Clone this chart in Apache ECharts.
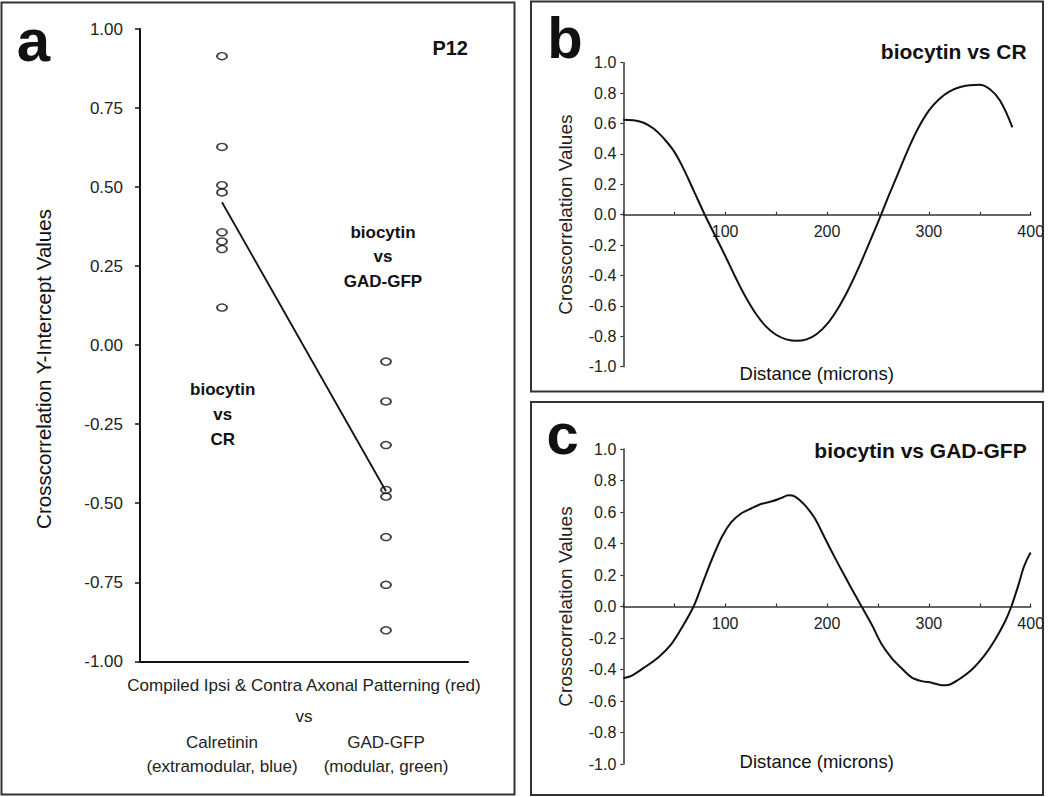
<!DOCTYPE html>
<html><head><meta charset="utf-8">
<script src="https://cdn.jsdelivr.net/npm/echarts@6/dist/echarts.min.js"></script>
<style>html,body{margin:0;padding:0;background:#fff}#c{width:1050px;height:797px}</style>
</head><body><div id="c"></div>
<script>
const FONT = "'Liberation Sans Narrow','Arial Narrow','Liberation Sans',Arial,sans-serif";

// Panel a data
const categoriesA = ['Calretinin\n(extramodular, blue)', 'GAD-GFP\n(modular, green)'];
const crValues = [0.914, 0.627, 0.506, 0.483, 0.357, 0.328, 0.304, 0.119];
const gadValues = [-0.052, -0.178, -0.316, -0.458, -0.479, -0.607, -0.758, -0.902];
const trendValues = [0.452, -0.462];

// Panel b data
const distB = [0, 10, 20, 30, 40, 50, 60, 70, 80, 90, 100, 110, 120, 130, 140, 150, 160, 170, 180, 190, 200, 210, 220, 230, 240, 250, 260, 270, 280, 290, 300, 310, 320, 330, 340, 350, 360, 370, 382];
const corrB = [0.625, 0.622, 0.605, 0.565, 0.5, 0.415, 0.29, 0.145, 0.0, -0.135, -0.27, -0.41, -0.54, -0.65, -0.735, -0.79, -0.82, -0.83, -0.82, -0.785, -0.72, -0.625, -0.505, -0.365, -0.21, -0.05, 0.115, 0.275, 0.435, 0.575, 0.685, 0.76, 0.81, 0.838, 0.852, 0.855, 0.825, 0.75, 0.575];

// Panel c data
const distC = [0, 8, 20, 34, 47, 57, 69, 78, 87, 96.6, 106, 116, 126, 136, 146, 155.5, 162, 168.6, 178, 188, 198, 208, 217.7, 227.5, 234, 244, 253.7, 263.5, 273, 283, 293, 302.8, 312.6, 319, 329, 342, 355, 365, 374.8, 381, 388, 392.8, 397.7, 400];
const corrC = [-0.455, -0.44, -0.39, -0.325, -0.24, -0.14, 0.0, 0.15, 0.3, 0.44, 0.535, 0.592, 0.624, 0.652, 0.668, 0.69, 0.706, 0.698, 0.645, 0.56, 0.433, 0.307, 0.19, 0.074, 0.0, -0.116, -0.24, -0.328, -0.391, -0.45, -0.474, -0.484, -0.5, -0.498, -0.465, -0.402, -0.307, -0.211, -0.095, 0.0, 0.137, 0.243, 0.317, 0.342];

const xTickLabelsBC = ['100', '200', '300', '400'];

const chart = echarts.init(document.getElementById('c'), null, {renderer: 'svg'});

function curveAxisY(gridIndex) {
  return {
    type: 'value', gridIndex, min: -1, max: 1, interval: 0.2,
    axisLine: {show: true, lineStyle: {color: '#333', width: 1.5}},
    axisTick: {show: true, length: 3, lineStyle: {color: '#333', width: 1.2}},
    splitLine: {show: false},
    axisLabel: {formatter: v => v.toFixed(1), fontSize: 16, fontFamily: FONT, color: '#222', margin: 7},
    name: 'Crosscorrelation Values', nameLocation: 'middle', nameGap: 48, nameMoveOverlap: false,
    nameTextStyle: {fontSize: 19, fontFamily: FONT, color: '#222'}
  };
}
function curveAxisX(gridIndex, halfHeight) {
  return {
    type: 'value', gridIndex, min: 0, max: 400, interval: 50,
    offset: -halfHeight,
    axisLine: {show: true, onZero: false, lineStyle: {color: '#333', width: 1.5}},
    axisTick: {show: true, inside: true, length: 3, lineStyle: {color: '#333', width: 1.2}},
    splitLine: {show: false},
    axisLabel: {
      formatter: v => xTickLabelsBC.indexOf(String(v)) >= 0 ? String(v) : '',
      fontSize: 16, fontFamily: FONT, color: '#222', margin: 9
    }
  };
}

const txt = (text, x, y, size, opts = {}) => Object.assign({
  type: 'text', x, y, silent: true,
  style: {
    text, fill: '#111', fontSize: size, fontFamily: FONT, fontWeight: opts.bold ? 'bold' : 'normal',
    align: opts.align || 'center', verticalAlign: opts.valign || 'middle',
    textAlign: opts.align || 'center', textVerticalAlign: opts.valign || 'middle',
    lineHeight: opts.lineHeight
  }
}, opts.rotation ? {rotation: opts.rotation} : {});

chart.setOption({
  backgroundColor: '#fff',
  animation: false,
  grid: [
    {left: 140, top: 29, width: 328, height: 632.3, outerBoundsMode: 'none', containLabel: false},
    {left: 623.3, top: 62.7, width: 407.4, height: 304, outerBoundsMode: 'none', containLabel: false},
    {left: 623.3, top: 449, width: 407.4, height: 315, outerBoundsMode: 'none', containLabel: false}
  ],
  xAxis: [
    {
      type: 'category', gridIndex: 0, data: categoriesA, boundaryGap: true,
      axisLine: {show: true, onZero: false, lineStyle: {color: '#111', width: 2}},
      axisTick: {show: false},
      axisLabel: {margin: 69, fontSize: 17, lineHeight: 24, fontFamily: FONT, color: '#222', interval: 0},
      name: 'Compiled Ipsi & Contra Axonal Patterning (red)\nvs',
      nameLocation: 'middle', nameGap: 9, nameMoveOverlap: false,
      nameTextStyle: {fontSize: 17, lineHeight: 31, fontFamily: FONT, color: '#222'}
    },
    curveAxisX(1, 152),
    curveAxisX(2, 157.5)
  ],
  yAxis: [
    {
      type: 'value', gridIndex: 0, min: -1, max: 1, interval: 0.25,
      axisLine: {show: true, lineStyle: {color: '#111', width: 2}},
      axisTick: {show: true, length: 5, lineStyle: {color: '#111', width: 1.5}},
      splitLine: {show: false},
      axisLabel: {formatter: v => v.toFixed(2), fontSize: 17, fontFamily: FONT, color: '#222', margin: 17}
    },
    curveAxisY(1),
    curveAxisY(2)
  ],
  graphic: {elements: [
    {type: 'rect', shape: {x: 1.5, y: 2.5, width: 513, height: 792}, style: {fill: 'none', stroke: '#333', lineWidth: 2}, silent: true},
    {type: 'rect', shape: {x: 531, y: 1.5, width: 512, height: 390}, style: {fill: 'none', stroke: '#333', lineWidth: 2}, silent: true},
    {type: 'rect', shape: {x: 531, y: 402, width: 512, height: 393}, style: {fill: 'none', stroke: '#333', lineWidth: 2}, silent: true},
    txt('a', 33.5, 40, 60, {bold: true}),
    txt('b', 565, 37, 58, {bold: true}),
    txt('c', 562.5, 433, 58, {bold: true}),
    txt('Crosscorrelation Y-Intercept Values', 43, 369, 20.5, {rotation: Math.PI / 2}),
    txt('P12', 468, 48, 20, {bold: true, align: 'right'}),
    txt('biocytin\nvs\nGAD-GFP', 383, 256.5, 17, {bold: true, lineHeight: 24.5}),
    txt('biocytin\nvs\nCR', 222.7, 414, 17, {bold: true, lineHeight: 25}),
    txt('biocytin vs CR', 1026.7, 51.7, 21, {bold: true, align: 'right'}),
    txt('biocytin vs GAD-GFP', 1026.7, 450, 21, {bold: true, align: 'right'}),
    txt('Distance (microns)', 816.7, 373, 18.5),
    txt('Distance (microns)', 816.7, 761.7, 18.5)
  ]},
  series: [
    {
      type: 'line', xAxisIndex: 0, yAxisIndex: 0, data: [[0, trendValues[0]], [1, trendValues[1]]],
      symbol: 'none', lineStyle: {color: '#111', width: 1.8}, z: 2
    },
    {
      type: 'scatter', xAxisIndex: 0, yAxisIndex: 0,
      data: crValues.map(v => [0, v]).concat(gadValues.map(v => [1, v])),
      symbol: 'circle', symbolSize: [10, 7],
      itemStyle: {color: 'rgba(255,255,255,0)', borderColor: '#111', borderWidth: 1.7}, z: 3
    },
    {
      type: 'line', xAxisIndex: 1, yAxisIndex: 1, data: distB.map((d, i) => [d, corrB[i]]),
      showSymbol: false, smooth: 0.4, lineStyle: {color: '#111', width: 2}
    },
    {
      type: 'line', xAxisIndex: 2, yAxisIndex: 2, data: distC.map((d, i) => [d, corrC[i]]),
      showSymbol: false, smooth: 0.3, lineStyle: {color: '#111', width: 2}
    }
  ]
});
</script></body></html>
